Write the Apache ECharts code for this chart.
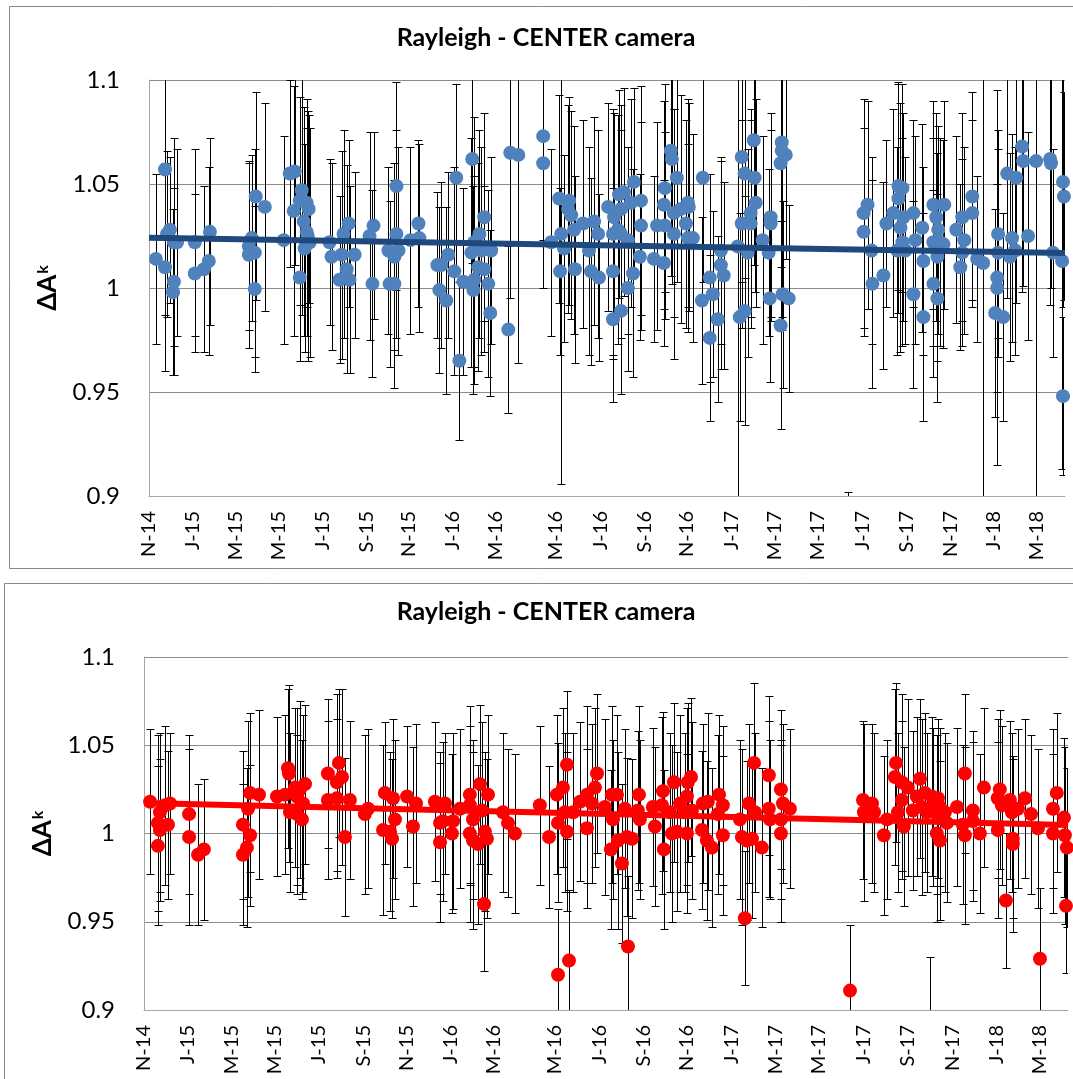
<!DOCTYPE html>
<html>
<head>
<meta charset="utf-8">
<title>Rayleigh - CENTER camera</title>
<script src="https://cdn.jsdelivr.net/npm/echarts@6/dist/echarts.min.js"></script>
<style>
  html, body { margin: 0; padding: 0; background: #fff; }
  #chart { width: 1073px; height: 1079px; }
</style>
</head>
<body>
<div id="chart"></div>
<script>
// x = months after 1 Nov 2014; label spots (about every two months)
const tickMonths = [0, 1.95, 3.9, 5.82, 7.8, 9.77, 11.69, 13.66, 15.6, 18.29, 20.31, 22.28, 24.2, 26.22,
  28.15, 30.07, 32.09, 34.06, 36.07, 38.0, 39.93];
const tickLabels = ['N-14', 'J-15', 'M-15', 'M-15', 'J-15', 'S-15', 'N-15', 'J-16', 'M-16', 'M-16', 'J-16',
  'S-16', 'N-16', 'J-17', 'M-17', 'M-17', 'J-17', 'S-17', 'N-17', 'J-18', 'M-18'];
const xMax = 41.2;

// top panel (blue)
const topMonths = [0.31, 0.72, 0.72, 0.81, 0.94, 1.08, 1.12, 1.12, 1.26, 2.06, 2.06, 2.47, 2.69, 2.74,
  4.49, 4.49, 4.62, 4.76, 4.76, 4.80, 5.21, 6.06, 6.33, 6.51, 6.55, 6.78, 6.78, 6.87, 6.96, 7.00, 7.09, 7.09,
  7.14, 7.18, 7.23, 8.12, 8.21, 8.57, 8.66, 8.75, 8.89, 8.98, 9.02, 9.25, 9.92, 10.05, 10.10, 10.77, 10.82,
  11.04, 11.04, 11.13, 11.13, 11.22, 11.76, 12.12, 12.16, 12.97, 13.06, 13.15, 13.37, 13.46, 13.73, 13.82,
  13.96, 14.14, 14.50, 14.54, 14.59, 14.63, 14.63, 14.81, 14.86, 14.95, 15.08, 15.08, 15.26, 15.35, 15.39,
  16.16, 16.25, 16.61, 17.73, 17.73, 18.09, 18.45, 18.49, 18.54, 18.67, 18.85, 18.90, 18.99, 19.12, 19.16,
  19.52, 19.79, 19.88, 20.02, 20.20, 20.24, 20.65, 20.87, 20.87, 20.87, 20.92, 21.09, 21.14, 21.23, 21.23,
  21.23, 21.36, 21.54, 21.54, 21.68, 21.77, 21.81, 22.08, 22.13, 22.13, 22.71, 22.85, 23.16, 23.16, 23.20,
  23.20, 23.47, 23.52, 23.61, 23.61, 23.74, 23.92, 24.15, 24.24, 24.24, 24.28, 24.46, 24.87, 24.91, 25.22,
  25.22, 25.36, 25.58, 25.72, 25.72, 25.85, 26.48, 26.57, 26.66, 26.66, 26.79, 26.79, 26.93, 27.06, 27.06,
  27.20, 27.24, 27.29, 27.60, 27.87, 27.92, 27.96, 27.96, 28.41, 28.41, 28.46, 28.46, 28.50, 28.64, 28.77,
  31.46, 32.14, 32.14, 32.32, 32.50, 32.54, 33.03, 33.17, 33.48, 33.66, 33.71, 33.71, 33.80, 33.89, 33.89,
  33.93, 34.02, 34.38, 34.38, 34.47, 34.78, 34.83, 34.83, 35.28, 35.28, 35.28, 35.41, 35.46, 35.46, 35.50,
  35.59, 35.73, 35.77, 36.31, 36.49, 36.58, 36.58, 36.67, 37.03, 37.03, 37.25, 37.52, 38.06, 38.15, 38.15,
  38.19, 38.19, 38.42, 38.60, 38.73, 38.82, 38.96, 39.00, 39.27, 39.32, 39.54, 39.90, 40.53, 40.57, 40.66,
  41.07, 41.11, 41.11, 41.15];
const topValues = [1.014, 1.010, 1.057, 1.026, 1.028, 0.998, 1.003, 1.022, 1.022, 1.022, 1.007, 1.009, 1.013, 1.027,
  1.020, 1.016, 1.024, 1.017, 0.9995, 1.044, 1.039, 1.023, 1.055, 1.037, 1.056, 1.042, 1.005, 1.047, 1.032, 1.019, 1.041, 1.027,
  1.025, 1.038, 1.022, 1.022, 1.015, 1.004, 1.016, 1.026, 1.009, 1.031, 1.004, 1.016, 1.025, 1.002, 1.030, 1.018, 1.002,
  1.015, 1.002, 1.026, 1.049, 1.018, 1.023, 1.031, 1.024, 1.011, 0.999, 1.011, 0.994, 1.016, 1.008, 1.053,
  0.965, 1.003, 1.017, 1.062, 0.999, 1.004, 1.022, 1.010, 1.026, 1.018, 1.034, 1.009, 1.002, 0.988, 1.018,
  0.980, 1.065, 1.064, 1.073, 1.060, 1.022, 1.043, 1.008, 1.026, 1.019, 1.038, 1.042, 1.035, 1.028, 1.009,
  1.031, 1.018, 1.008, 1.032, 1.026, 1.005, 1.039, 1.026, 1.008, 0.985, 1.034, 1.028, 1.045, 1.038, 1.026,
  0.989, 1.046, 1.023, 1.000, 1.041, 1.007, 1.051, 1.015, 1.042, 1.030, 1.014, 1.030, 1.012, 1.040, 1.030,
  1.048, 1.066, 1.062, 1.036, 1.026, 1.053, 1.038, 1.031, 1.041, 1.024, 1.039, 1.024, 0.994, 1.053, 1.005,
  0.976, 0.997, 0.985, 1.018, 1.011, 1.006, 1.020, 0.986, 1.063, 1.031, 1.055, 0.989, 1.017, 1.036, 1.031,
  1.071, 1.053, 1.041, 1.023, 1.017, 0.995, 1.034, 1.031, 1.060, 0.982, 1.070, 1.066, 0.997, 1.064, 0.995,
  0.862, 1.027, 1.036, 1.040, 1.018, 1.002, 1.006, 1.031, 1.036, 1.018, 1.049, 1.043, 1.029, 1.048, 1.022,
  1.034, 1.018, 1.036, 0.997, 1.023, 1.029, 1.013, 0.986, 1.040, 1.022, 1.002, 1.034, 1.015, 0.995, 1.028,
  1.022, 1.021, 1.040, 1.028, 1.010, 1.034, 1.017, 1.023, 1.044, 1.036, 1.014, 1.012, 0.988, 1.005, 1.000,
  1.026, 1.017, 0.986, 1.055, 1.015, 1.024, 1.018, 1.053, 1.068, 1.061, 1.025, 1.061, 1.062, 1.060, 1.017,
  1.013, 1.051, 0.948, 1.044];
const topErrors = [0.041, 0.050, 0.070, 0.040, 0.035, 0.040, 0.045, 0.050, 0.045, 0.045, 0.038, 0.040, 0.045, 0.045,
  0.040, 0.045, 0.040, 0.050, 0.040, 0.050, 0.050, 0.050, 0.045, 0.060, 0.045, 0.050, 0.040, 0.060, 0.055, 0.050, 0.050, 0.050,
  0.060, 0.045, 0.055, 0.040, 0.045, 0.040, 0.050, 0.050, 0.050, 0.040, 0.045, 0.040, 0.050, 0.045, 0.045, 0.040, 0.040,
  0.045, 0.050, 0.050, 0.050, 0.050, 0.045, 0.040, 0.045, 0.035, 0.040, 0.040, 0.045, 0.040, 0.050, 0.045,
  0.038, 0.045, 0.055, 0.050, 0.050, 0.050, 0.060, 0.050, 0.050, 0.050, 0.050, 0.040, 0.045, 0.040, 0.045,
  0.040, 0.070, 0.100, 0.050, 0.060, 0.045, 0.050, 0.040, 0.120, 0.045, 0.050, 0.050, 0.050, 0.050, 0.045,
  0.050, 0.050, 0.045, 0.050, 0.050, 0.040, 0.050, 0.060, 0.040, 0.040, 0.050, 0.055, 0.050, 0.050, 0.050,
  0.040, 0.050, 0.045, 0.040, 0.050, 0.050, 0.045, 0.040, 0.055, 0.050, 0.040, 0.050, 0.040, 0.050, 0.045,
  0.050, 0.060, 0.060, 0.050, 0.060, 0.050, 0.055, 0.050, 0.050, 0.045, 0.050, 0.050, 0.040, 0.050, 0.050,
  0.040, 0.040, 0.040, 0.045, 0.050, 0.045, 0.125, 0.050, 0.060, 0.050, 0.050, 0.055, 0.050, 0.050, 0.050,
  0.060, 0.055, 0.050, 0.050, 0.040, 0.040, 0.050, 0.045, 0.050, 0.050, 0.090, 0.080, 0.045, 0.050, 0.045,
  0.040, 0.050, 0.055, 0.050, 0.045, 0.050, 0.045, 0.040, 0.050, 0.050, 0.050, 0.055, 0.060, 0.050, 0.050,
  0.050, 0.045, 0.045, 0.045, 0.050, 0.050, 0.045, 0.050, 0.050, 0.050, 0.045, 0.050, 0.050, 0.050, 0.050,
  0.050, 0.050, 0.050, 0.045, 0.040, 0.050, 0.045, 0.045, 0.050, 0.045, 0.040, 0.115, 0.050, 0.090, 0.050,
  0.050, 0.050, 0.050, 0.060, 0.050, 0.050, 0.050, 0.060, 0.070, 0.060, 0.050, 0.170, 0.070, 0.060, 0.050,
  0.100, 0.060, 0.038, 0.050];
const topTrend = [1.0242, 1.0168];

// bottom panel (red)
const botMonths = [0.27, 0.62, 0.62, 0.71, 0.71, 0.94, 1.07, 1.16, 2.01, 2.01, 2.41, 2.67, 4.41, 4.41, 4.59,
  4.64, 4.73, 4.73, 5.13, 5.93, 6.29, 6.42, 6.46, 6.51, 6.73, 6.82, 6.82, 6.95, 7.04, 7.09, 7.18, 8.20, 8.20,
  8.60, 8.60, 8.69, 8.83, 8.96, 9.18, 9.85, 9.99, 10.66, 10.74, 10.97, 11.06, 11.10, 11.19, 11.73, 11.99,
  12.13, 12.97, 13.20, 13.20, 13.42, 13.33, 13.73, 13.78, 14.09, 14.53, 14.53, 14.53, 14.67, 14.67, 14.89,
  14.98, 15.07, 15.16, 15.20, 15.29, 15.34, 16.01, 16.23, 16.54, 17.65, 18.06, 18.41, 18.46, 18.46, 18.68,
  18.77, 18.86, 18.86, 18.95, 19.13, 19.44, 19.75, 19.75, 19.97, 20.11, 20.20, 20.55, 20.82, 20.86, 20.91,
  21.09, 21.13, 21.31, 21.44, 21.53, 21.58, 21.76, 22.02, 22.07, 22.11, 22.69, 22.78, 23.09, 23.14, 23.18,
  23.45, 23.54, 23.63, 23.76, 23.90, 24.12, 24.21, 24.21, 24.25, 24.39, 24.43, 24.88, 24.92, 25.10, 25.14,
  25.32, 25.59, 25.64, 25.81, 25.81, 26.57, 26.66, 26.79, 26.88, 26.97, 27.11, 27.20, 27.24, 27.55, 27.86,
  27.86, 27.91, 28.40, 28.40, 28.40, 28.49, 28.80, 31.48, 32.06, 32.10, 32.46, 32.55, 32.99, 33.13, 33.48,
  33.53, 33.62, 33.79, 33.79, 33.88, 34.06, 34.28, 34.46, 34.60, 34.69, 34.82, 34.91, 35.04, 35.13, 35.18,
  35.35, 35.35, 35.40, 35.49, 35.49, 35.71, 35.80, 36.25, 36.51, 36.60, 36.60, 36.96, 36.96, 37.27, 37.45,
  38.07, 38.07, 38.16, 38.25, 38.43, 38.61, 38.70, 38.74, 38.74, 38.97, 39.28, 39.55, 39.86, 40.53, 40.53,
  40.70, 39.95, 41.02, 41.06, 41.11, 41.15];
const botValues = [1.018, 0.993, 1.006, 1.012, 1.002, 1.016, 1.005, 1.017, 1.011, 0.998, 0.988, 0.991, 1.005, 0.988, 0.992,
  1.014, 0.999, 1.023, 1.022, 1.021, 1.022, 1.037, 1.034, 1.012, 1.026, 1.021, 1.011, 1.025, 1.008, 1.017, 1.028, 1.034, 1.019,
  1.029, 1.020, 1.040, 1.032, 0.998, 1.019, 1.011, 1.014, 1.002, 1.023, 1.001, 0.997, 1.020, 1.008, 1.021, 1.004,
  1.017, 1.018, 1.006, 0.995, 1.017, 1.007, 1.000, 1.007, 1.014, 1.022, 1.016, 1.000, 1.008, 0.996, 0.994,
  1.028, 1.013, 0.960, 1.001, 0.997, 1.022, 1.012, 1.006, 1.000, 1.016, 0.998, 1.022, 1.006, 0.920, 1.026,
  1.012, 1.039, 1.001, 0.928, 1.012, 1.018, 1.022, 1.003, 1.017, 1.026, 1.034, 1.015, 0.991, 1.022, 1.008,
  1.022, 0.996, 0.983, 1.014, 0.998, 0.936, 0.997, 1.013, 1.022, 1.008, 1.015, 1.004, 1.016, 1.024, 0.991,
  1.012, 1.000, 1.029, 1.001, 1.017, 1.012, 1.021, 1.000, 1.029, 1.032, 1.013, 1.002, 1.017, 0.996, 1.018,
  0.992, 1.011, 1.022, 1.016, 0.999, 1.008, 0.998, 0.952, 0.996, 1.017, 0.997, 1.040, 1.012, 0.992, 1.033,
  1.014, 1.008, 1.025, 1.008, 1.000, 1.017, 1.014, 0.911, 1.019, 1.012, 1.017, 1.012, 0.999, 1.008, 1.032,
  1.040, 1.012, 1.029, 1.019, 1.004, 1.026, 1.013, 1.021, 1.031, 1.015, 1.023, 1.012, 0.888, 1.021, 1.015,
  1.011, 1.000, 1.020, 1.015, 0.996, 1.012, 1.006, 1.015, 1.005, 1.034, 0.999, 1.013, 1.007, 1.000, 1.026,
  1.020, 1.002, 1.025, 1.016, 0.962, 1.019, 1.012, 0.997, 0.994, 1.014, 1.020, 1.011, 1.003, 1.014, 1.000,
  1.023, 0.929, 1.009, 0.999, 0.959, 0.992];
const botErrors = [0.041, 0.045, 0.050, 0.045, 0.040, 0.045, 0.042, 0.040, 0.045, 0.050, 0.040, 0.040, 0.042, 0.040, 0.045,
  0.050, 0.040, 0.045, 0.048, 0.045, 0.045, 0.045, 0.050, 0.045, 0.045, 0.050, 0.045, 0.050, 0.045, 0.050, 0.045, 0.042, 0.045,
  0.050, 0.045, 0.042, 0.050, 0.045, 0.045, 0.045, 0.045, 0.048, 0.040, 0.045, 0.045, 0.045, 0.045, 0.040, 0.045,
  0.045, 0.045, 0.040, 0.045, 0.040, 0.045, 0.045, 0.050, 0.045, 0.050, 0.045, 0.050, 0.045, 0.050, 0.045,
  0.045, 0.050, 0.038, 0.045, 0.045, 0.045, 0.045, 0.042, 0.045, 0.045, 0.040, 0.045, 0.045, 0.037, 0.045,
  0.045, 0.042, 0.045, 0.040, 0.045, 0.045, 0.050, 0.045, 0.045, 0.045, 0.045, 0.050, 0.045, 0.050, 0.045,
  0.045, 0.050, 0.045, 0.045, 0.045, 0.040, 0.045, 0.045, 0.050, 0.045, 0.045, 0.045, 0.050, 0.045, 0.045,
  0.045, 0.050, 0.045, 0.045, 0.050, 0.045, 0.050, 0.045, 0.045, 0.045, 0.050, 0.045, 0.045, 0.045, 0.050,
  0.045, 0.045, 0.045, 0.045, 0.045, 0.045, 0.050, 0.038, 0.045, 0.045, 0.045, 0.045, 0.045, 0.045, 0.045,
  0.050, 0.045, 0.045, 0.045, 0.050, 0.045, 0.045, 0.037, 0.045, 0.050, 0.045, 0.045, 0.045, 0.045, 0.050,
  0.045, 0.045, 0.050, 0.045, 0.045, 0.050, 0.045, 0.045, 0.045, 0.050, 0.045, 0.045, 0.042, 0.045, 0.045,
  0.045, 0.050, 0.045, 0.045, 0.045, 0.045, 0.045, 0.045, 0.045, 0.045, 0.050, 0.045, 0.045, 0.045, 0.045,
  0.045, 0.050, 0.045, 0.045, 0.038, 0.045, 0.045, 0.045, 0.050, 0.045, 0.045, 0.045, 0.045, 0.045, 0.045,
  0.045, 0.040, 0.045, 0.050, 0.038, 0.045];
const botTrend = [1.0173, 1.0048];

const font = 'Lato, "Open Sans", sans-serif';
const greyLine = '#8c8c8c';
const borderLine = '#a6a6a6';

const points = (xs, ys) => xs.map((x, i) => [x, ys[i]]);
const bars = (xs, ys, es) => xs.map((x, i) => [x, ys[i], es[i]]);

function renderErrorBar(params, api) {
  const x = api.value(0), y = api.value(1), e = api.value(2);
  const hi = api.coord([x, y + e]);
  const lo = api.coord([x, y - e]);
  const px = Math.round(hi[0]) + 0.5;
  const yTop = Math.round(hi[1]) + 0.5;
  const yBot = Math.round(lo[1]) + 0.5;
  const cap = 4;
  const style = { stroke: '#000', lineWidth: 1 };
  return {
    type: 'group',
    children: [
      { type: 'line', shape: { x1: px, y1: yTop, x2: px, y2: yBot }, style },
      { type: 'line', shape: { x1: px - cap, y1: yTop, x2: px + cap, y2: yTop }, style },
      { type: 'line', shape: { x1: px - cap, y1: yBot, x2: px + cap, y2: yBot }, style }
    ]
  };
}

function makeXAxis(gridIndex) {
  return {
    type: 'value', gridIndex, min: 0, max: xMax,
    axisLine: { show: true, lineStyle: { color: borderLine } },
    axisTick: { show: false },
    splitLine: { show: false },
    axisLabel: {
      customValues: tickMonths,
      rotate: 90, margin: 15, color: '#000', fontSize: 20, fontFamily: font,
      formatter: v => { const i = tickMonths.indexOf(v); return i >= 0 ? tickLabels[i] : ''; }
    }
  };
}

function makeYAxis(gridIndex) {
  return {
    type: 'value', gridIndex, min: 0.9, max: 1.1, interval: 0.05,
    name: '{d|ΔA}{k|k}', nameLocation: 'middle', nameRotate: 90, nameGap: 88,
    nameTextStyle: {
      rich: {
        d: { fontSize: 26, fontWeight: 'bold', fontFamily: font, color: '#000' },
        k: { fontSize: 16, fontWeight: 'bold', fontFamily: font, color: '#000', verticalAlign: 'top', padding: [0, 0, 10, 1] }
      }
    },
    axisLine: { show: true, lineStyle: { color: borderLine } },
    axisTick: { show: false },
    splitLine: { show: true, lineStyle: { color: greyLine } },
    axisLabel: { fontSize: 24, margin: 29, color: '#000', fontFamily: font }
  };
}

function panelSeries(idx, xs, ys, es, trend, dotColor, trendColor) {
  return [
    {
      type: 'custom', xAxisIndex: idx, yAxisIndex: idx, renderItem: renderErrorBar,
      data: bars(xs, ys, es), encode: { x: 0, y: 1 }, clip: true, z: 1, silent: true
    },
    {
      type: 'scatter', xAxisIndex: idx, yAxisIndex: idx, data: points(xs, ys),
      symbolSize: 14, itemStyle: { color: dotColor, opacity: 1 }, clip: true, z: 2
    },
    {
      type: 'line', xAxisIndex: idx, yAxisIndex: idx, data: [[0, trend[0]], [xMax, trend[1]]],
      symbol: 'none', lineStyle: { color: trendColor, width: 6 }, z: 3
    }
  ];
}

const chart = echarts.init(document.getElementById('chart'));
chart.setOption({
  animation: false,
  backgroundColor: '#fff',
  grid: [
    { left: 149, top: 80, width: 916, height: 416 },
    { left: 144, top: 657, width: 924, height: 353 }
  ],
  xAxis: [makeXAxis(0), makeXAxis(1)],
  yAxis: [makeYAxis(0), makeYAxis(1)],
  graphic: [
    { type: 'rect', silent: true, shape: { x: 9.5, y: 6.5, width: 1080, height: 562 },
      style: { fill: 'none', stroke: '#898989', lineWidth: 1 } },
    { type: 'rect', silent: true, shape: { x: 4.5, y: 583.5, width: 1085, height: 520 },
      style: { fill: 'none', stroke: '#898989', lineWidth: 1 } },
    { type: 'text', x: 546, y: 38, silent: true,
      style: { text: 'Rayleigh - CENTER camera', fontSize: 25, fontWeight: 'bold', fontFamily: font,
        fill: '#000', textAlign: 'center', textVerticalAlign: 'middle' } },
    { type: 'text', x: 546, y: 612, silent: true,
      style: { text: 'Rayleigh - CENTER camera', fontSize: 25, fontWeight: 'bold', fontFamily: font,
        fill: '#000', textAlign: 'center', textVerticalAlign: 'middle' } }
  ],
  series: [
    ...panelSeries(0, topMonths, topValues, topErrors, topTrend, '#4F81BD', '#1F497D'),
    ...panelSeries(1, botMonths, botValues, botErrors, botTrend, '#FF0000', '#FF0000')
  ]
});
</script>
</body>
</html>
